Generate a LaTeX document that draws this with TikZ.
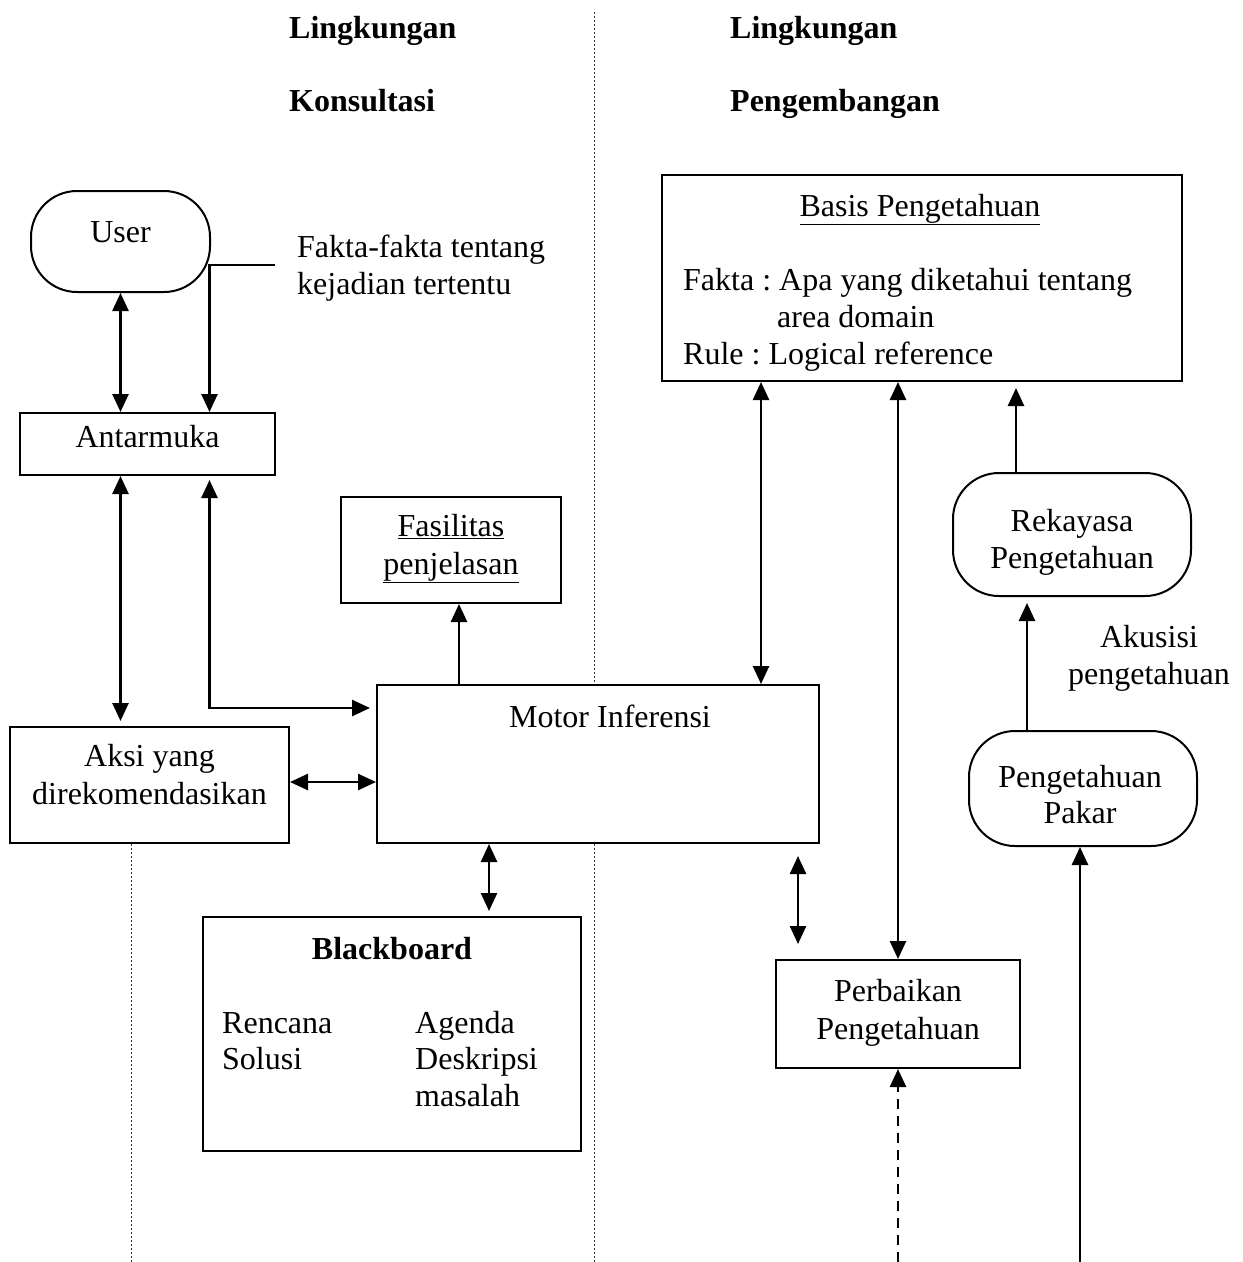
\documentclass[tikz,border=0pt]{standalone}
\usepackage{fontspec}
\setmainfont{Liberation Serif}
\usetikzlibrary{arrows.meta}
\frenchspacing
\tikzset{
  box/.style={draw, line width=2pt, fill=white, inner sep=0pt, align=center},
  rbox/.style={box, rounded corners=46pt},
  lbl/.style={inner sep=0pt, anchor=base west},
  clbl/.style={inner sep=0pt, anchor=base},
  tip/.tip={Triangle[length=18pt,width=16pt]},
  arr/.style={line width=2.6pt, -tip},
  dbl/.style={line width=2.6pt, tip-tip},
  sep/.style={line width=0.9pt, dash pattern=on 2pt off 2pt, black!80}
}
\begin{document}
\begin{tikzpicture}[x=1pt,y=-1pt, every node/.style={font=\fontsize{32}{37}\selectfont}]
\useasboundingbox (0,0) rectangle (1243,1262);
% separators (behind boxes)
\coordinate (d1t) at (594,12);
\coordinate (d1b) at (594,1262);
\coordinate (d2b) at (131,1262);
\draw[sep] (d1t) -- (d1b);

% headers
\node[lbl, font=\fontsize{32}{37}\selectfont\bfseries] (h1) at (289,38) {Lingkungan};
\node[lbl, font=\fontsize{32}{37}\selectfont\bfseries] (h2) at (289,111) {Konsultasi};
\node[lbl, font=\fontsize{32}{37}\selectfont\bfseries] (h3) at (730,38) {Lingkungan};
\node[lbl, font=\fontsize{32}{37}\selectfont\bfseries] (h4) at (730,111) {Pengembangan};

% nodes
\node[rbox, minimum width=179pt, minimum height=101pt] (user) at (120.5,241.5) {};
\node[clbl] (usert) at (120.5,242) {User};
\node[lbl] (fk1) at (297,257) {Fakta-fakta tentang};
\node[lbl] (fk2) at (297,294) {kejadian tertentu};
\node[box, minimum width=255pt, minimum height=62pt] (ant) at (147.5,444) {};
\node[clbl] (antt) at (147.5,447) {Antarmuka};
\node[box, minimum width=220pt, minimum height=106pt] (fas) at (451,550) {};
\node[clbl] (fas1) at (451,536) {\underline{Fasilitas}};
\node[clbl] (fas2) at (451,574) {\underline{penjelasan}};
\node[box, minimum width=442pt, minimum height=158pt] (motor) at (598,764) {};
\node[clbl] (motort) at (610,727) {Motor Inferensi};
\node[box, minimum width=279pt, minimum height=116pt] (aksi) at (149.5,785) {};
\node[clbl] (aksi1) at (149.5,766) {Aksi yang};
\node[clbl] (aksi2) at (149.5,804) {direkomendasikan};
\node[box, minimum width=378pt, minimum height=234pt] (bb) at (392,1034) {};
\node[clbl, font=\fontsize{32}{37}\selectfont\bfseries] (bbt) at (392,959) {Blackboard};
\node[lbl] (bb1) at (222,1033) {Rencana};
\node[lbl] (bb2) at (222,1069) {Solusi};
\node[lbl] (bb3) at (415,1033) {Agenda};
\node[lbl] (bb4) at (415,1069) {Deskripsi};
\node[lbl] (bb5) at (415,1106) {masalah};

\node[box, minimum width=520pt, minimum height=206pt] (basis) at (922,278) {};
\node[clbl] (basist) at (920,216) {\underline{Basis Pengetahuan}};
\node[lbl] (bs1) at (683,290) {Fakta : Apa yang diketahui tentang};
\node[lbl] (bs2) at (777,327) {area domain};
\node[lbl] (bs3) at (683,364) {Rule : Logical reference};
\node[rbox, minimum width=238pt, minimum height=123pt] (rek) at (1072,534.5) {};
\node[clbl] (rek1) at (1072,531) {Rekayasa};
\node[clbl] (rek2) at (1072,568) {Pengetahuan};
\node[clbl] (aku1) at (1149,647) {Akusisi};
\node[clbl] (aku2) at (1149,684) {pengetahuan};
\node[rbox, minimum width=228pt, minimum height=115pt] (pakar) at (1083,788.5) {};
\node[clbl] (pak1) at (1080,787) {Pengetahuan};
\node[clbl] (pak2) at (1080,823) {Pakar};
\node[box, minimum width=244pt, minimum height=108pt] (perb) at (898,1014) {};
\node[clbl] (perb1) at (898,1001) {Perbaikan};
\node[clbl] (perb2) at (898,1039) {Pengetahuan};

% left separator below Aksi
\draw[sep] (aksi.south -| d2b) -- (d2b);

% helper coordinates
\coordinate (x210) at (209.5,0);
\coordinate (x459) at (459,0);
\coordinate (x489) at (489,0);
\coordinate (x761) at (761,0);
\coordinate (x798) at (798,0);
\coordinate (x1016) at (1016,0);
\coordinate (x1027) at (1027,0);
\coordinate (y708) at (0,708);
\coordinate (y782) at (0,782);
\coordinate (fk) at (275,265);
\coordinate (pk) at (1080,1262);
\coordinate (pb) at (898,1262);

% connectors
\draw[dbl] (user.south) -- (ant.north -| user.south);
\draw[arr] (fk) -| (ant.north -| x210);
\draw[dbl, shorten >=5pt] (ant.south -| user.south) -- (aksi.north -| user.south);
\draw[dbl, shorten <=4pt, shorten >=6pt] (ant.south -| x210) |- (motor.west |- y708);
\draw[arr] (motor.north -| x459) -- (fas.south -| x459);
\draw[dbl] (aksi.east |- y782) -- (motor.west |- y782);
\draw[dbl, shorten >=5pt] (motor.south -| x489) -- (bb.north -| x489);
\draw[dbl] (basis.south -| x761) -- (motor.north -| x761);
\draw[dbl] (basis.south -| perb.north) -- (perb.north);
\draw[arr, shorten >=6pt] (rek.north -| x1016) -- (basis.south -| x1016);
\draw[arr, shorten >=6pt] (pakar.north -| x1027) -- (rek.south -| x1027);
\draw[arr] (pk) -- (pakar.south -| pk);
\draw[dbl, shorten <=12pt, shorten >=15pt] (motor.south -| x798) -- (perb.north -| x798);
\draw[arr, dash pattern=on 10pt off 7pt] (pb) -- (perb.south);
\end{tikzpicture}
\end{document}
